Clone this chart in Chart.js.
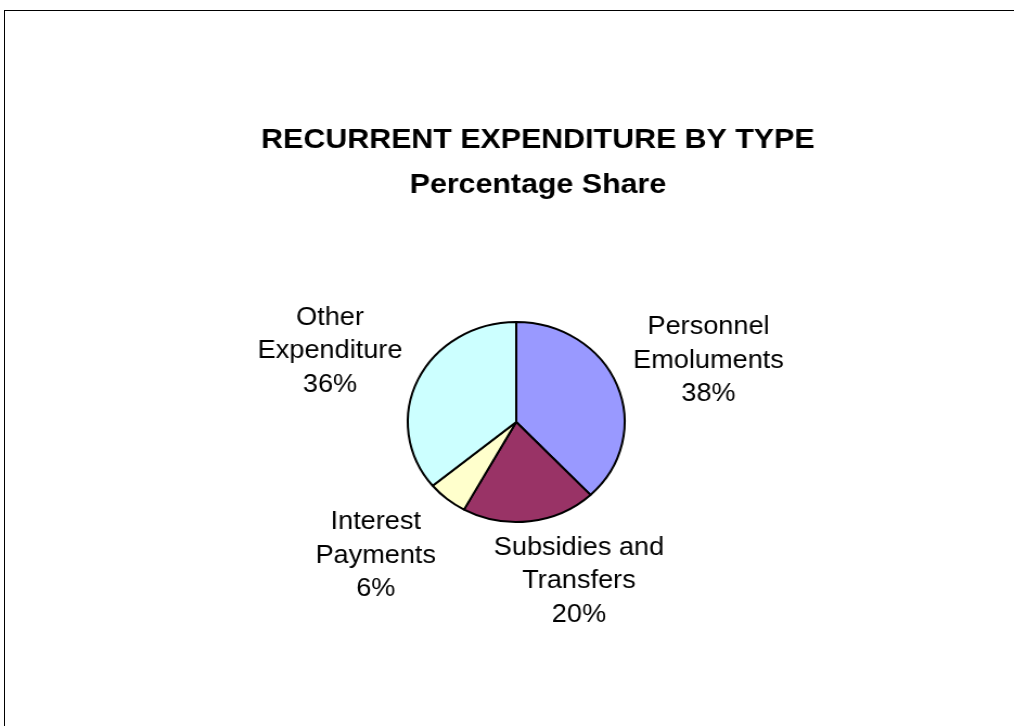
<!DOCTYPE html>
<html>
<head>
<meta charset="utf-8">
<title>Recurrent Expenditure by Type</title>
<script src="https://cdn.jsdelivr.net/npm/chart.js@4.4.1/dist/chart.umd.min.js"></script>
<style>
    html, body { margin: 0; padding: 0; background: #fff; overflow: hidden; }
    #frame { position: absolute; left: 4px; top: 10px; width: 1100px; height: 800px; border: 1px solid #000; }
    #expChart { position: absolute; left: 0; top: 0; }
</style>
</head>
<body>
<div id="frame"></div>
<!-- drawn at 935 wide and stretched to 1014, like the original (slightly wide) picture -->
<canvas id="expChart" width="935" height="726" style="width:1014px;height:726px"></canvas>
<script>
const titleLines = ['RECURRENT EXPENDITURE BY TYPE', 'Percentage Share'];
const categories = [
    ['Personnel', 'Emoluments'],
    ['Subsidies and', 'Transfers'],
    ['Interest', 'Payments'],
    ['Other', 'Expenditure']
];
const shares = [38, 20, 6, 36];
const sliceColors = ['#9999FF', '#993366', '#FFFFCC', '#CCFFFF'];

const FONT = '"Liberation Sans", Arial, sans-serif';
const LABEL_SIZE = 25;
const LINE_GAP = 33.5;

// title + outside labels (Excel style: name, name, percent)
const pieText = {
    id: 'pieText',
    afterDraw(chart) {
        const ctx = chart.ctx;
        ctx.save();
        ctx.fillStyle = '#000';
        ctx.textAlign = 'center';
        ctx.textBaseline = 'alphabetic';

        ctx.font = 'bold 28px ' + FONT;
        titleLines.forEach((t, i) => ctx.fillText(t, 496, 148 + i * 45));

        ctx.font = LABEL_SIZE + 'px ' + FONT;
        const meta = chart.getDatasetMeta(0);
        meta.data.forEach((arc, i) => {
            const p = arc.getProps(['x', 'y', 'startAngle', 'endAngle', 'outerRadius'], true);
            const mid = (p.startAngle + p.endAngle) / 2;
            const dx = Math.cos(mid), dy = Math.sin(mid);
            const lines = categories[i].concat([shares[i] + '%']);
            const w = Math.max(...lines.map(l => ctx.measureText(l).width));
            const h = LABEL_SIZE * 0.716 + (lines.length - 1) * LINE_GAP;
            const r = p.outerRadius + 16;
            const cx = p.x + dx * r + Math.sign(dx) * Math.min(1, Math.abs(dx) * 4.4) * w / 2;
            const cy = p.y + dy * r + Math.sign(dy) * Math.min(1, Math.abs(dy) * 1.3) * h / 2;
            const first = cy - h / 2 + LABEL_SIZE * 0.716;
            lines.forEach((l, j) => ctx.fillText(l, cx, first + j * LINE_GAP));
        });
        ctx.restore();
    }
};

new Chart(document.getElementById('expChart'), {
    type: 'pie',
    data: {
        labels: categories.map(c => c.join(' ')),
        datasets: [{
            data: shares,
            backgroundColor: sliceColors,
            borderColor: '#000',
            borderWidth: 2,
            hoverBorderWidth: 2,
            hoverOffset: 0
        }]
    },
    options: {
        responsive: false,
        animation: false,
        events: [],
        layout: {
            padding: { left: 375, right: 358, top: 321, bottom: 203 }
        },
        plugins: {
            legend: { display: false },
            title: { display: false },
            tooltip: { enabled: false }
        }
    },
    plugins: [pieText]
});
</script>
</body>
</html>
